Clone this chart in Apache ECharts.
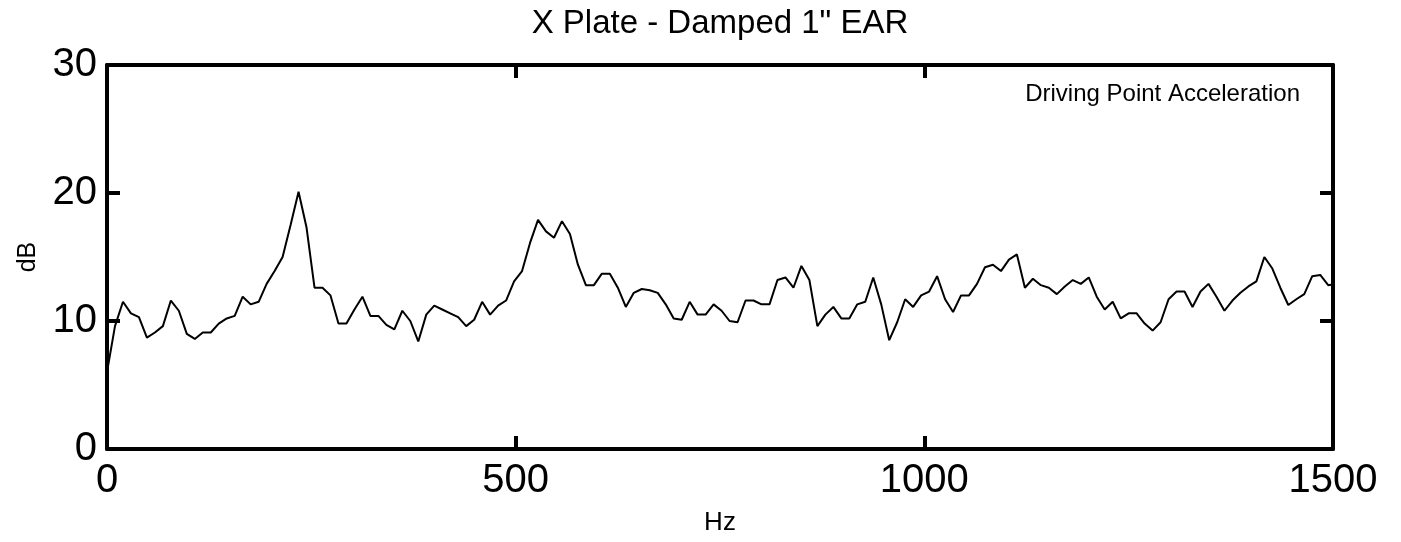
<!DOCTYPE html>
<html>
<head>
<meta charset="utf-8">
<script src="https://cdn.jsdelivr.net/npm/echarts@6/dist/echarts.min.js"></script>
<style>
  html, body { margin: 0; padding: 0; background: #fff; }
  #chart { width: 1401px; height: 542px; }
</style>
</head>
<body>
<div id="chart"></div>
<script>
// frequency resolution of the spectrum (Hz per bin)
const freqStep = 9.765625;

// driving point acceleration, dB, one value per bin
const dbValues = [
  6.0, 9.6, 11.5, 10.6, 10.3, 8.7, 9.1, 9.6, 11.6, 10.8,
  9.0, 8.6, 9.1, 9.1, 9.8, 10.2, 10.4, 11.9, 11.3, 11.5,
  12.9, 13.9, 15.0, 17.5, 20.1, 17.3, 12.6, 12.6, 12.0, 9.8,
  9.8, 10.9, 11.9, 10.4, 10.4, 9.7, 9.35, 10.8, 10.0, 8.4,
  10.5, 11.2, 10.9, 10.6, 10.3, 9.6, 10.1, 11.5, 10.5, 11.2,
  11.6, 13.1, 13.9, 16.1, 17.9, 17.0, 16.5, 17.8, 16.8, 14.4,
  12.8, 12.8, 13.7, 13.7, 12.6, 11.1, 12.2, 12.5, 12.4, 12.2,
  11.3, 10.2, 10.1, 11.5, 10.5, 10.5, 11.3, 10.8, 10.0, 9.9,
  11.6, 11.6, 11.3, 11.3, 13.2, 13.4, 12.6, 14.3, 13.2, 9.6,
  10.5, 11.1, 10.2, 10.2, 11.3, 11.5, 13.4, 11.3, 8.5, 9.9,
  11.7, 11.1, 12.0, 12.3, 13.5, 11.7, 10.7, 12.0, 12.0, 12.9,
  14.2, 14.4, 13.9, 14.8, 15.2, 12.6, 13.3, 12.8, 12.6, 12.1,
  12.7, 13.2, 12.9, 13.4, 11.9, 10.9, 11.5, 10.2, 10.6, 10.6,
  9.8, 9.25, 9.9, 11.7, 12.3, 12.3, 11.1, 12.3, 12.9, 11.9,
  10.8, 11.6, 12.2, 12.7, 13.1, 15.0, 14.1, 12.6, 11.25, 11.7,
  12.1, 13.5, 13.6, 12.8, 12.9
];

const xTicks = [0, 500, 1000, 1500];
const yTicks = [0, 10, 20, 30];

const font = "'Liberation Sans', Arial, sans-serif";

const chart = echarts.init(document.getElementById('chart'));

const lineData = dbValues.map((v, i) => [i * freqStep, v]);

// 轴线与刻度的公共样式
const frameLine = { show: true, onZero: false, lineStyle: { color: '#000', width: 4 } };
const innerTick = { show: true, inside: true, length: 13, lineStyle: { color: '#000', width: 4 } };
const plainNumber = v => String(v);

chart.setOption({
  animation: false,
  graphic: [{
    type: 'text',
    x: 720,
    y: 24,
    style: {
      text: 'X Plate - Damped 1" EAR',
      font: '33px ' + font,
      fill: '#000',
      align: 'center',
      verticalAlign: 'middle'
    }
  }, {
    type: 'text',
    x: 1300,
    y: 94,
    style: {
      text: 'Driving Point Acceleration',
      font: '24px ' + font,
      fill: '#000',
      align: 'right',
      verticalAlign: 'middle'
    }
  }],
  grid: { left: 107, right: 68, top: 65, bottom: 93 },
  xAxis: [{
    type: 'value',
    min: xTicks[0],
    max: xTicks[xTicks.length - 1],
    interval: 500,
    position: 'bottom',
    name: 'Hz',
    nameLocation: 'middle',
    nameGap: 61,
    nameTextStyle: { fontFamily: font, fontSize: 26, color: '#000' },
    axisLine: frameLine,
    axisTick: innerTick,
    axisLabel: { fontFamily: font, fontSize: 40, color: '#000', margin: 12, formatter: plainNumber },
    splitLine: { show: false }
  }, {
    type: 'value',
    min: xTicks[0],
    max: xTicks[xTicks.length - 1],
    interval: 500,
    position: 'top',
    axisLine: frameLine,
    axisTick: innerTick,
    axisLabel: { show: false },
    splitLine: { show: false }
  }],
  yAxis: [{
    type: 'value',
    min: yTicks[0],
    max: yTicks[yTicks.length - 1],
    interval: 10,
    position: 'left',
    name: 'dB',
    nameLocation: 'middle',
    nameGap: 66,
    nameTextStyle: { fontFamily: font, fontSize: 25, color: '#000' },
    axisLine: frameLine,
    axisTick: innerTick,
    axisLabel: { fontFamily: font, fontSize: 40, color: '#000', margin: 10, formatter: plainNumber },
    splitLine: { show: false }
  }, {
    type: 'value',
    min: yTicks[0],
    max: yTicks[yTicks.length - 1],
    interval: 10,
    position: 'right',
    axisLine: frameLine,
    axisTick: innerTick,
    axisLabel: { show: false },
    splitLine: { show: false }
  }],
  series: [{
    type: 'line',
    data: lineData,
    xAxisIndex: 0,
    yAxisIndex: 0,
    showSymbol: false,
    clip: true,
    lineStyle: { color: '#000', width: 2 }
  }]
});
</script>
</body>
</html>
